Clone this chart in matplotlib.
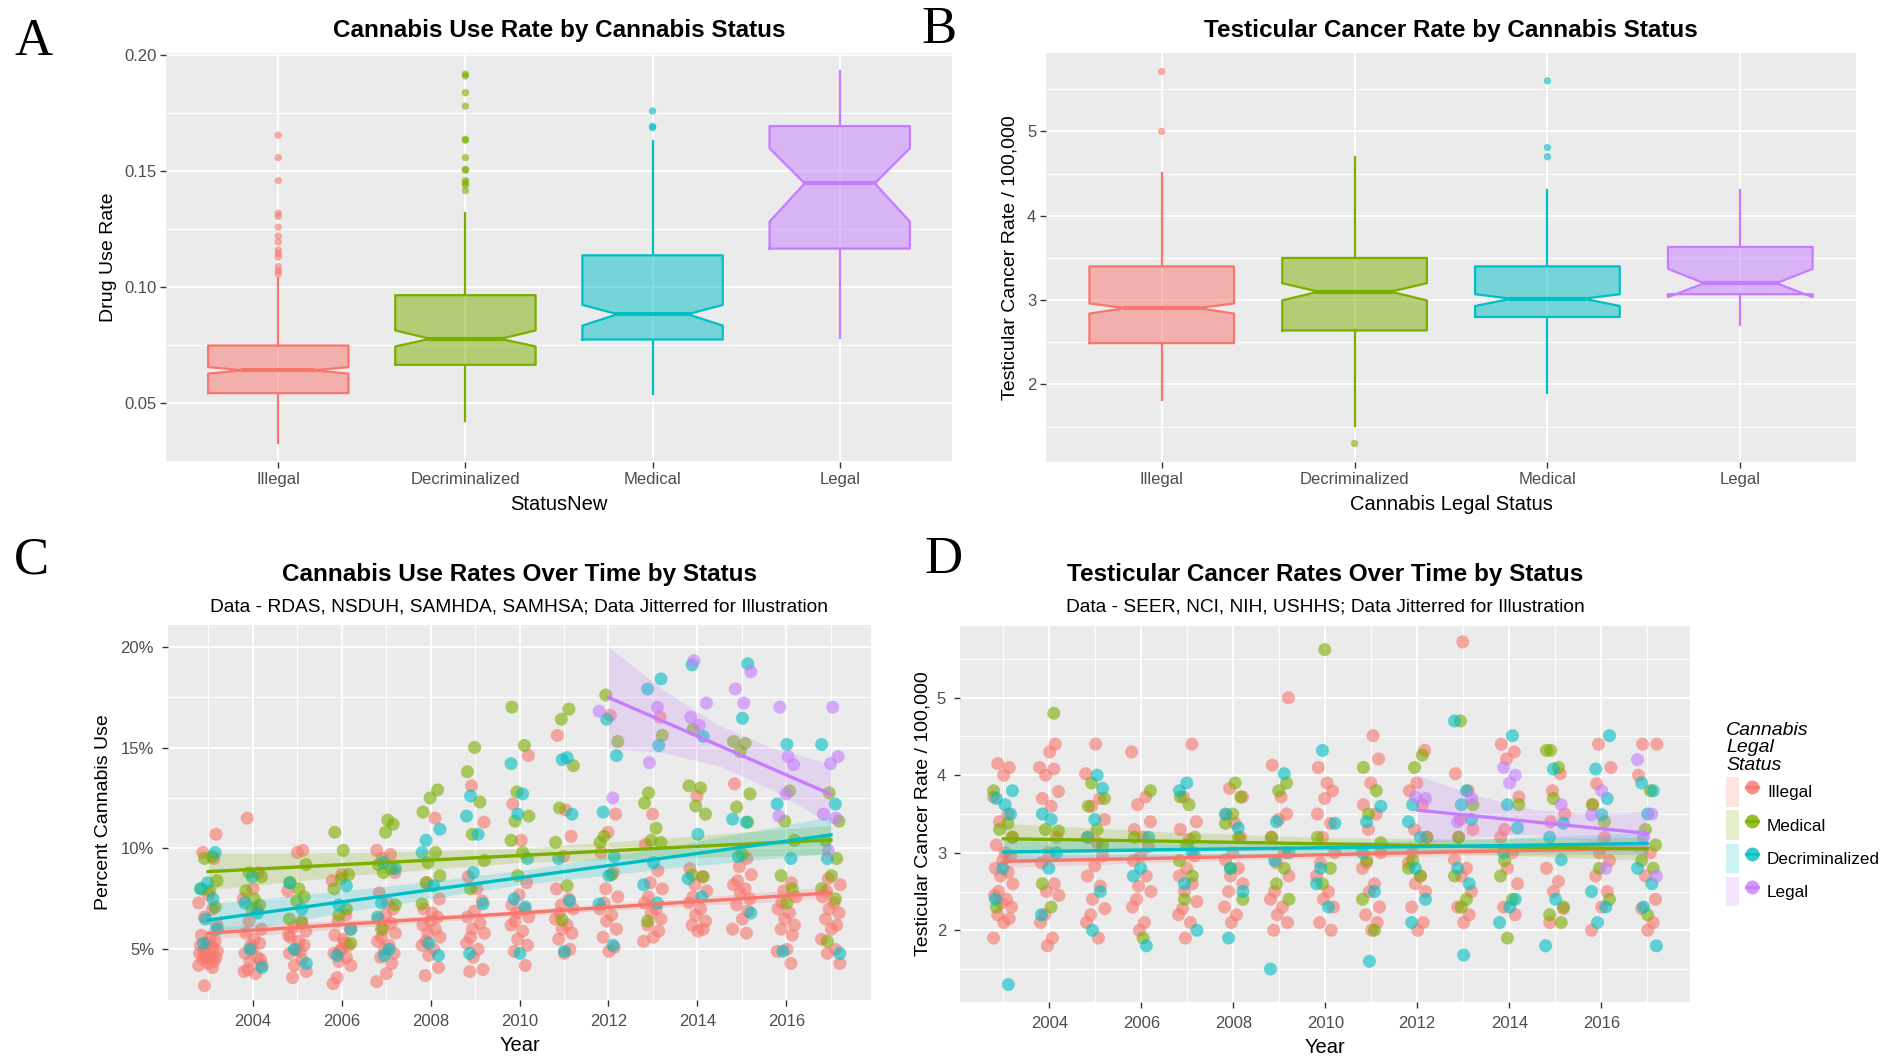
import numpy as np
import matplotlib
matplotlib.use('Agg')
import matplotlib.pyplot as plt
from matplotlib.lines import Line2D
from matplotlib.patches import Patch
from matplotlib.legend_handler import HandlerTuple
from matplotlib.ticker import FixedLocator, FuncFormatter

plt.rcParams['font.family'] = ['Liberation Sans', 'DejaVu Sans']

# ggplot hue palette (by factor position)
HUE = ['#F8766D', '#7CAE00', '#00BFC4', '#C77CFF']

# --- Panel A: cannabis use rate box stats ---
box_status = ['Illegal', 'Decriminalized', 'Medical', 'Legal']
use_whislo = [0.033, 0.0421, 0.0539, 0.078]
use_q1 = [0.0543, 0.0665, 0.0774, 0.1166]
use_med = [0.0641, 0.0777, 0.0883, 0.1447]
use_q3 = [0.0748, 0.0965, 0.1137, 0.1694]
use_whishi = [0.1038, 0.1318, 0.1631, 0.1933]
use_notch_lo = [0.0627, 0.0744, 0.0834, 0.1282]
use_notch_hi = [0.0655, 0.0813, 0.0923, 0.1598]
use_outliers = [
    [0.1655, 0.1558, 0.1459, 0.1318, 0.1305, 0.1258, 0.122, 0.1195, 0.116,
     0.1145, 0.113, 0.1088, 0.107, 0.1057],
    [0.1918, 0.191, 0.1838, 0.178, 0.1637, 0.1633, 0.1558, 0.1508, 0.1503,
     0.1459, 0.145, 0.144, 0.1416],
    [0.1759, 0.1693, 0.1687],
    [],
]

# --- Panel B: testicular cancer rate box stats ---
tc_whislo = [1.82, 1.51, 1.90, 2.71]
tc_q1 = [2.49, 2.64, 2.80, 3.07]
tc_med = [2.905, 3.10, 3.016, 3.20]
tc_q3 = [3.40, 3.50, 3.40, 3.63]
tc_whishi = [4.51, 4.70, 4.31, 4.31]
tc_notch_lo = [2.84, 2.996, 2.93, 3.035]
tc_notch_hi = [2.96, 3.20, 3.07, 3.37]
tc_outliers = [[5.71, 5.0], [1.30], [5.60, 4.81, 4.70], []]

# --- Panel C: cannabis use (%) by year ---
line_status = ['Illegal', 'Medical', 'Decriminalized', 'Legal']
use_illegal = {
    2003: [10.7, 9.8, 9.5, 7.7, 7.3, 7.0, 6.6, 6.2, 5.7, 5.5, 5.4, 5.3, 5.2, 5.1, 5.0, 4.9,
           4.8, 4.8, 4.7, 4.6, 4.6, 4.5, 4.4, 4.3, 4.2, 4.1, 3.2],
    2004: [11.5, 8.8, 8.0, 7.5, 7.0, 6.4, 6.0, 5.8, 5.5, 5.3, 5.0, 4.8, 4.6, 4.4, 4.2, 4.0,
           3.9, 3.8, 5.2, 4.5],
    2005: [9.9, 9.8, 7.9, 6.4, 6.1, 5.9, 5.6, 5.4, 5.2, 5.0, 4.8, 4.5, 4.2, 3.9, 3.6, 5.7, 4.9],
    2006: [8.7, 8.4, 6.7, 6.4, 6.0, 5.7, 5.5, 5.2, 5.0, 4.8, 4.6, 4.4, 4.2, 3.6, 3.3, 5.3, 4.9],
    2007: [9.9, 9.7, 9.5, 8.8, 7.8, 7.3, 7.0, 6.7, 6.5, 6.3, 6.0, 5.8, 5.6, 5.4, 5.2, 5.0,
           4.8, 4.6, 4.3, 3.8, 3.4],
    2008: [11.5, 8.3, 7.5, 7.0, 6.8, 6.6, 6.4, 6.2, 6.0, 5.8, 5.6, 5.4, 5.2, 5.0, 4.7, 4.1, 3.7],
    2009: [13.1, 11.3, 8.6, 8.0, 7.4, 6.9, 6.6, 6.3, 6.0, 5.8, 5.6, 5.3, 5.0, 4.6, 4.0, 3.9],
    2010: [14.6, 12.2, 10.4, 8.3, 7.7, 7.2, 7.0, 6.8, 6.6, 6.4, 6.2, 5.9, 5.5, 5.2, 4.9, 4.2],
    2011: [15.6, 11.9, 10.6, 9.6, 8.0, 7.5, 7.2, 7.0, 6.8, 6.5, 6.2, 6.0, 5.8, 5.5, 5.0, 4.8],
    2012: [16.6, 11.7, 10.8, 9.8, 8.8, 8.0, 7.6, 7.3, 7.0, 6.7, 6.4, 6.0, 5.6, 5.1, 4.9],
    2013: [16.5, 11.7, 10.2, 8.9, 8.3, 8.0, 7.6, 7.3, 7.0, 6.8, 6.5, 6.2, 5.9, 5.6, 5.4],
    2014: [12.6, 9.0, 8.6, 8.2, 7.9, 7.6, 7.3, 7.0, 6.7, 6.4, 6.2, 6.0, 5.9],
    2015: [13.2, 9.5, 9.1, 8.7, 8.4, 8.2, 8.0, 7.8, 7.5, 7.2, 6.9, 6.5, 6.0, 5.8],
    2016: [8.3, 7.9, 7.6, 7.3, 7.0, 6.8, 6.5, 6.2, 6.0, 5.7, 5.0, 4.9, 4.3],
    2017: [8.5, 8.2, 7.9, 7.6, 7.3, 7.0, 6.8, 6.5, 6.2, 6.0, 5.5, 5.0, 4.8, 4.3],
}
use_medical = {
    2003: [9.6, 9.5, 8.4, 8.0, 7.9, 7.1],
    2004: [8.8, 8.6, 7.9, 7.5, 7.2, 7.0],
    2005: [9.2, 8.3, 8.0, 7.6, 7.4, 6.5, 6.3],
    2006: [10.8, 9.9, 8.7, 8.5, 8.0, 7.0, 6.7, 5.3],
    2007: [11.4, 11.2, 10.8, 9.2, 9.0, 8.8, 7.2, 6.0],
    2008: [12.9, 12.5, 11.8, 9.8, 9.3, 8.65, 8.3, 7.25],
    2009: [15.0, 13.8, 12.3, 10.7, 9.4, 8.0],
    2010: [17.0, 15.1, 12.8, 11.6, 11.35, 10.4, 9.8, 8.65],
    2011: [16.9, 16.4, 14.1, 12.0, 10.3, 8.15, 6.45],
    2012: [17.6, 15.3, 10.6, 10.3, 8.7],
    2013: [15.6, 12.75, 12.25, 11.0, 10.4, 10.3, 6.4],
    2014: [15.9, 13.1, 13.0, 12.1, 11.7, 8.7, 8.6],
    2015: [15.3, 15.2, 14.8, 12.7, 12.05, 11.3, 9.7],
    2016: [12.85, 11.35, 10.4, 8.65, 8.0, 7.3],
    2017: [12.75, 11.35, 10.4, 9.5, 8.65, 8.0, 7.5, 5.4],
}
use_decrim = {
    2003: [9.8, 8.3, 8.0, 7.5, 6.5, 6.0, 5.3],
    2004: [8.6, 7.3, 6.8, 5.0, 4.1],
    2005: [8.3, 7.0, 5.0, 4.3],
    2006: [8.15, 7.2, 6.0, 4.7],
    2007: [9.3, 9.0, 7.3, 6.6, 5.0, 4.7],
    2008: [10.95, 10.4, 9.8, 8.15, 5.3, 4.7],
    2009: [12.6, 11.6, 10.7, 8.8, 7.25, 4.8],
    2010: [14.2, 12.7, 11.7, 9.5, 7.5, 7.1, 4.8],
    2011: [14.5, 14.4, 11.7, 9.5, 7.4, 4.9],
    2012: [16.4, 14.6, 11.8, 9.6, 8.65, 7.25, 5.2],
    2013: [18.4, 17.9, 15.1, 9.3, 8.2, 7.3],
    2014: [19.1, 15.55, 10.7, 8.5, 7.6],
    2015: [19.15, 16.45, 11.45, 11.3, 9.6, 6.8],
    2016: [15.15, 12.2, 9.5, 4.9],
    2017: [15.15, 12.2, 9.5, 4.8],
}
use_legal = {
    2012: [16.8, 12.5],
    2013: [17.0, 14.25],
    2014: [19.3, 17.2, 16.5, 16.1],
    2015: [18.75, 17.9, 17.2],
    2016: [17.0, 14.55, 14.15, 12.7, 11.6],
    2017: [17.0, 14.55, 14.2, 11.7, 11.5, 9.9],
}

# linear fits with confidence band half-widths
fit_years = [2003, 2006.5, 2010, 2013.5, 2017]
legal_fit_years = [2012, 2013.25, 2014.5, 2015.75, 2017]
use_fit = {
    'Illegal': [5.8, 6.3, 6.8, 7.3, 7.8],
    'Medical': [8.85, 9.25, 9.65, 10.05, 10.42],
    'Decriminalized': [6.45, 7.5, 8.55, 9.6, 10.67],
    'Legal': [17.48, 16.28, 15.08, 13.88, 12.68],
}
use_band = {
    'Illegal': [0.3, 0.19, 0.13, 0.19, 0.3],
    'Medical': [0.9, 0.54, 0.35, 0.5, 0.72],
    'Decriminalized': [0.8, 0.5, 0.35, 0.55, 0.9],
    'Legal': [2.5, 1.55, 1.0, 1.05, 1.5],
}

# --- Panel D: testicular cancer rate by year ---
tc_illegal = {
    2003: [4.15, 4.1, 4.0, 3.72, 3.5, 3.4, 3.2, 3.1, 3.0, 2.96, 2.9, 2.8, 2.75, 2.7, 2.6, 2.5,
           2.45, 2.4, 2.35, 2.3, 2.2, 2.15, 2.1, 1.9],
    2004: [4.4, 4.3, 4.1, 4.08, 4.0, 3.79, 3.7, 3.6, 3.2, 3.0, 2.87, 2.6, 2.5, 2.45, 2.2, 2.1,
           1.9, 1.8],
    2005: [4.4, 4.02, 3.7, 3.6, 3.43, 3.2, 3.13, 2.96, 2.83, 2.7, 2.57, 2.4, 2.28, 2.2, 2.1, 1.9],
    2006: [4.3, 3.72, 3.62, 3.4, 3.3, 3.2, 3.08, 2.96, 2.9, 2.7, 2.57, 2.5, 2.4, 2.3, 2.1, 2.0],
    2007: [4.4, 3.72, 3.4, 3.3, 3.17, 2.96, 2.8, 2.7, 2.6, 2.5, 2.37, 2.28, 2.2, 2.1, 1.9],
    2008: [3.83, 3.72, 3.49, 3.38, 3.2, 3.0, 2.91, 2.8, 2.7, 2.6, 2.5, 2.3, 2.2, 2.1],
    2009: [5.0, 4.13, 3.72, 3.5, 3.43, 3.2, 3.0, 2.87, 2.7, 2.5, 2.4, 2.3, 2.2, 2.1, 2.0],
    2010: [4.1, 3.9, 3.8, 3.7, 3.5, 3.38, 3.2, 3.0, 2.87, 2.7, 2.5, 2.4, 2.3, 2.1, 2.0],
    2011: [4.51, 4.21, 3.9, 3.62, 3.5, 3.3, 3.0, 2.87, 2.8, 2.6, 2.5, 2.3, 2.2, 2.1, 2.0],
    2012: [4.32, 3.9, 3.8, 3.62, 3.3, 3.2, 3.0, 2.87, 2.7, 2.6, 2.5, 2.3, 2.1, 2.0],
    2013: [5.72, 4.02, 3.8, 3.43, 3.3, 3.2, 2.91, 2.8, 2.7, 2.5, 2.3, 2.2, 2.1],
    2014: [4.4, 4.3, 4.21, 3.72, 3.3, 3.2, 3.0, 2.8, 2.6, 2.3, 2.2],
    2015: [4.02, 3.8, 3.5, 3.4, 2.8, 2.63, 2.5, 2.28, 2.1],
    2016: [4.4, 4.1, 3.89, 3.62, 3.2, 3.0, 2.9, 2.7, 2.5, 2.3, 2.0],
    2017: [4.4, 4.4, 4.0, 3.0, 2.7, 2.4, 2.28, 2.1, 2.0],
}
tc_medical = {
    2003: [3.8, 3.38, 3.3, 3.2, 2.3],
    2004: [4.8, 3.3, 3.28, 2.6, 2.3],
    2005: [3.9, 3.7, 3.6, 3.3, 3.1],
    2006: [3.8, 3.2, 1.9],
    2007: [3.72, 3.62, 3.2, 3.1, 2.9, 2.7, 2.4],
    2008: [3.9, 3.72, 3.5, 3.38, 3.2, 2.8, 2.4],
    2009: [3.9, 3.8, 3.2, 2.8, 2.6, 2.4],
    2010: [5.62, 3.2, 2.8, 2.6],
    2011: [4.1, 3.8, 3.5, 3.13, 2.9, 2.4, 2.0],
    2012: [4.26, 4.1, 3.2, 2.9, 2.8, 2.7],
    2013: [4.7, 3.62, 3.2, 2.7, 2.4, 2.3],
    2014: [3.62, 2.9, 2.7, 2.4, 1.9],
    2015: [4.32, 4.32, 4.1, 3.7, 2.3, 2.2, 2.1],
    2016: [3.62, 3.4, 2.8, 2.4],
    2017: [3.8, 3.3, 3.1, 2.9, 2.8, 2.2],
}
tc_decrim = {
    2003: [3.8, 3.7, 3.62, 3.5, 2.8, 2.4, 1.3],
    2004: [3.5, 3.43, 3.0, 2.8, 2.2],
    2005: [4.0, 3.83, 3.43, 3.2, 2.5, 2.0],
    2006: [3.2, 2.8, 2.7, 1.8],
    2007: [3.9, 3.8, 3.0, 2.6, 2.0],
    2008: [3.5, 3.32, 2.8, 2.5, 1.9],
    2009: [4.02, 3.4, 3.0, 2.9, 1.5],
    2010: [4.32, 3.38, 2.8, 2.6, 2.3],
    2011: [3.6, 3.4, 3.0, 2.5, 1.6],
    2012: [3.62, 3.4, 3.2, 2.8, 2.4, 2.1],
    2013: [4.7, 3.8, 3.62, 3.43, 2.8, 2.6, 1.68],
    2014: [4.51, 3.62, 3.32, 3.0, 2.4, 2.3, 2.1],
    2015: [4.08, 3.38, 3.2, 2.91, 2.4, 1.8],
    2016: [4.51, 4.08, 3.7, 3.49, 2.5, 2.3, 2.1],
    2017: [3.9, 3.8, 3.5, 2.8, 2.6, 2.3, 1.8],
}
tc_legal = {
    2012: [3.72, 3.7],
    2013: [3.7, 3.4],
    2014: [4.1, 4.0, 3.9],
    2015: [3.62],
    2016: [3.8, 3.49, 2.8],
    2017: [4.2, 3.5, 3.2, 2.7],
}
tc_fit = {
    'Illegal': [2.89, 2.93, 2.975, 3.02, 3.06],
    'Medical': [3.18, 3.15, 3.115, 3.08, 3.05],
    'Decriminalized': [3.01, 3.04, 3.065, 3.09, 3.12],
    'Legal': [3.55, 3.475, 3.40, 3.325, 3.25],
}
tc_band = {
    'Illegal': [0.08, 0.05, 0.04, 0.05, 0.08],
    'Medical': [0.2, 0.12, 0.08, 0.1, 0.15],
    'Decriminalized': [0.15, 0.09, 0.07, 0.09, 0.14],
    'Legal': [0.45, 0.27, 0.16, 0.18, 0.28],
}

# fixed horizontal spread used for the jitter (display only)
JITTER = [-0.19, 0.07, -0.04, 0.18, -0.12, 0.13, 0.01, -0.21, 0.1, -0.08,
          0.2, -0.15, 0.04, 0.16, -0.01, -0.17, 0.11, -0.06, 0.21, -0.1]

W, H = 1887, 1059


def px_axes(x0, y0, x1, y1):
    return fig.add_axes([x0 / W, 1 - y1 / H, (x1 - x0) / W, (y1 - y0) / H])


def gg_style(ax, pad=3):
    ax.set_facecolor('#EBEBEB')
    for s in ax.spines.values():
        s.set_visible(False)
    ax.grid(True, which='major', color='white', lw=1.3)
    ax.grid(True, which='minor', color='white', lw=0.65)
    ax.set_axisbelow(True)
    ax.tick_params(which='major', length=4, width=1, color='#333333',
                   labelsize=12, labelcolor='#4D4D4D', pad=pad)
    ax.tick_params(which='minor', length=0)


def notched_box(ax, pos, lo, q1, med, q3, hi, nlo, nhi, color, width=0.75, notchwidth=0.5):
    x0, x1 = pos - width / 2, pos + width / 2
    inset = width * (1 - notchwidth) / 2
    xs = [x0, x1, x1, x1 - inset, x1, x1, x0, x0, x0 + inset, x0, x0]
    ys = [q1, q1, nlo, med, nhi, q3, q3, nhi, med, nlo, q1]
    ax.fill(xs, ys, facecolor=color, alpha=0.5, edgecolor='none', zorder=2)
    ax.plot(xs, ys, color=color, lw=1.6, zorder=3)
    ax.plot([pos, pos], [q3, hi], color=color, lw=1.6, zorder=3)
    ax.plot([pos, pos], [lo, q1], color=color, lw=1.6, zorder=3)
    ax.plot([x0 + inset, x1 - inset], [med, med], color=color, lw=3.0, zorder=4)


def box_panel(ax, lo, q1, med, q3, hi, nlo, nhi, outliers):
    gg_style(ax)
    for i in range(len(box_status)):
        pos = i + 1
        notched_box(ax, pos, lo[i], q1[i], med[i], q3[i], hi[i], nlo[i], nhi[i], HUE[i])
        if outliers[i]:
            ax.scatter([pos] * len(outliers[i]), outliers[i], s=28, color=HUE[i],
                       alpha=0.6, edgecolors='none', zorder=5)
    ax.set_xlim(0.4, 4.6)
    ax.set_xticks(range(1, 5))
    ax.set_xticklabels(box_status)


def scatter_years(ax, by_year, color, shift):
    xs, ys = [], []
    for yr, vals in by_year.items():
        for i, v in enumerate(vals):
            xs.append(yr + JITTER[(i + shift + yr) % len(JITTER)])
            ys.append(v)
    ax.scatter(xs, ys, s=88, color=color, alpha=0.6, edgecolors='none', zorder=2)


def fit_lines(ax, fits, bands):
    for k, name in enumerate(line_status):
        xs = legal_fit_years if name == 'Legal' else fit_years
        c = np.array(fits[name])
        b = np.array(bands[name])
        ax.fill_between(xs, c - b, c + b, color=HUE[k], alpha=0.2, lw=0, zorder=3)
        ax.plot(xs, c, color=HUE[k], lw=2.4, zorder=4)


fig = plt.figure(figsize=(W / 100, H / 100), dpi=100)

# ---------------- A ----------------
axA = px_axes(166, 53, 952, 462)
box_panel(axA, use_whislo, use_q1, use_med, use_q3, use_whishi, use_notch_lo, use_notch_hi,
          use_outliers)
axA.set_ylim(0.0246, 0.2009)
axA.yaxis.set_major_locator(FixedLocator([0.05, 0.10, 0.15, 0.20]))
axA.yaxis.set_minor_locator(FixedLocator([0.025, 0.075, 0.125, 0.175]))
axA.yaxis.set_major_formatter(FuncFormatter(lambda v, p: f'{v:.2f}'))
axA.set_xlabel('StatusNew', fontsize=14.5, color='black', labelpad=6)
axA.set_ylabel('Drug Use Rate', fontsize=14, color='black', labelpad=5)

# ---------------- B ----------------
axB = px_axes(1046, 53, 1856, 462)
box_panel(axB, tc_whislo, tc_q1, tc_med, tc_q3, tc_whishi, tc_notch_lo, tc_notch_hi,
          tc_outliers)
axB.set_ylim(1.08, 5.93)
axB.yaxis.set_major_locator(FixedLocator([2, 3, 4, 5]))
axB.yaxis.set_minor_locator(FixedLocator([1.5, 2.5, 3.5, 4.5, 5.5]))
axB.set_xlabel('Cannabis Legal Status', fontsize=14.5, color='black', labelpad=6)
axB.set_ylabel('Testicular Cancer Rate / 100,000', fontsize=14, color='black', labelpad=6)

# ---------------- C ----------------
axC = px_axes(168, 625, 871, 1000)
gg_style(axC, pad=6)
for k, data in enumerate([use_illegal, use_medical, use_decrim, use_legal]):
    scatter_years(axC, data, HUE[k], 5 * k)
fit_lines(axC, use_fit, use_band)
axC.set_xlim(2002.1, 2017.9)
axC.set_ylim(2.49, 21.07)
axC.xaxis.set_major_locator(FixedLocator(range(2004, 2017, 2)))
axC.xaxis.set_minor_locator(FixedLocator(range(2003, 2018, 2)))
axC.yaxis.set_major_locator(FixedLocator([5, 10, 15, 20]))
axC.yaxis.set_minor_locator(FixedLocator([2.5, 7.5, 12.5, 17.5]))
axC.yaxis.set_major_formatter(FuncFormatter(lambda v, p: f'{v:.0f}%'))
axC.set_xlabel('Year', fontsize=14.5, color='black', labelpad=5)
axC.set_ylabel('Percent Cannabis Use', fontsize=14, color='black', labelpad=6)

# ---------------- D ----------------
axD = px_axes(960, 626, 1690, 1002)
gg_style(axD, pad=6)
for k, data in enumerate([tc_illegal, tc_medical, tc_decrim, tc_legal]):
    scatter_years(axD, data, HUE[k], 3 * k + 1)
fit_lines(axD, tc_fit, tc_band)
axD.set_xlim(2002.06, 2017.93)
axD.set_ylim(1.075, 5.925)
axD.xaxis.set_major_locator(FixedLocator(range(2004, 2017, 2)))
axD.xaxis.set_minor_locator(FixedLocator(range(2003, 2018, 2)))
axD.yaxis.set_major_locator(FixedLocator([2, 3, 4, 5]))
axD.yaxis.set_minor_locator(FixedLocator([1.5, 2.5, 3.5, 4.5, 5.5]))
axD.set_xlabel('Year', fontsize=14.5, color='black', labelpad=5)
axD.set_ylabel('Testicular Cancer Rate / 100,000', fontsize=14, color='black', labelpad=4)

handles = [(Patch(facecolor=HUE[k], alpha=0.2, edgecolor='none'),
            Line2D([], [], color=HUE[k], lw=2.4, marker='o', markersize=10,
                   markeredgecolor='none', alpha=0.8))
           for k in range(4)]
leg = axD.legend(handles, line_status, title='Cannabis\nLegal\nStatus',
                 handler_map={tuple: HandlerTuple(ndivide=None)},
                 loc='center left', bbox_to_anchor=(1.04, 0.5), frameon=False,
                 fontsize=12.3, handlelength=1.9, handleheight=2.3, labelspacing=0.2,
                 handletextpad=0.5, borderaxespad=0, alignment='left')
leg.get_title().set_fontsize(14)
leg.get_title().set_fontstyle('italic')
leg.get_title().set_linespacing(1.05)

# ---------------- titles ----------------
def ftext(x, y, s, **kw):
    fig.text(x / W, 1 - y / H, s, ha='center', va='center', **kw)


ftext(559, 31, 'Cannabis Use Rate by Cannabis Status', fontsize=17.5, fontweight='bold')
ftext(1451, 31, 'Testicular Cancer Rate by Cannabis Status', fontsize=17.5, fontweight='bold')
ftext(519, 575, 'Cannabis Use Rates Over Time by Status', fontsize=17.5, fontweight='bold')
ftext(519, 607, 'Data - RDAS, NSDUH, SAMHDA, SAMHSA; Data Jitterred for Illustration', fontsize=13.8)
ftext(1325, 575, 'Testicular Cancer Rates Over Time by Status', fontsize=17.5, fontweight='bold')
ftext(1325, 607, 'Data - SEER, NCI, NIH, USHHS; Data Jitterred for Illustration', fontsize=13.8)

for (x, y), lab in zip([(34, 42), (939, 30), (31, 560), (944, 560)], 'ABCD'):
    ftext(x, y, lab, fontsize=38, family=['Liberation Serif', 'DejaVu Serif'])

fig.savefig('out.png', dpi=100, facecolor='white')
